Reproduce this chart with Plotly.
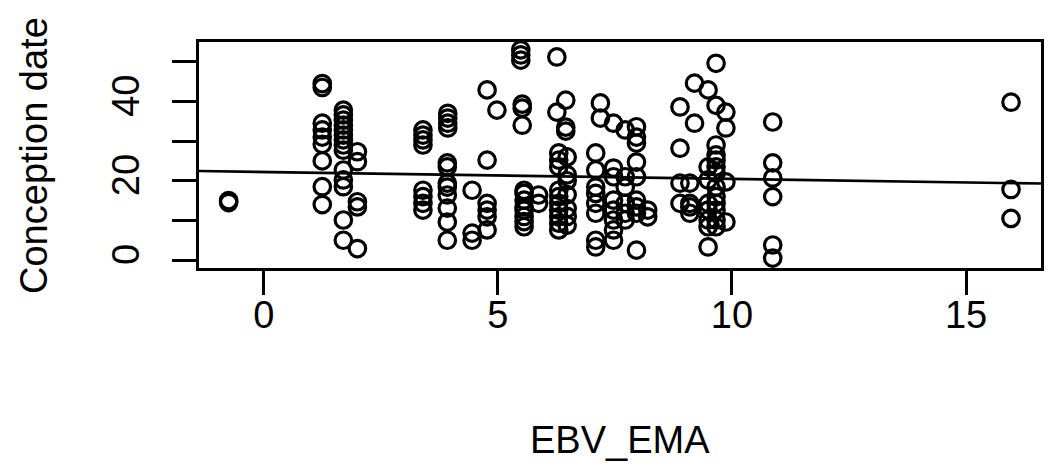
import numpy as np
import plotly.graph_objects as go

# EBV_EMA (x) and conception date (y)
ebv_ema = (
    [-0.75] * 2
    + [1.25] * 9
    + [1.70] * 14
    + [2.00] * 5
    + [3.40] * 8
    + [3.93] * 4
    + [3.92] * 8
    + [4.45] * 3
    + [4.77] * 6
    + [4.98]
    + [5.49] * 3
    + [5.52] * 3
    + [5.56] * 8
    + [5.87] * 2
    + [6.26] * 2
    + [6.45] * 3
    + [6.30] * 10
    + [6.48] * 7
    + [7.09] * 8
    + [7.19] * 2
    + [7.47] * 8
    + [7.72] * 6
    + [7.96] * 9
    + [8.20] * 2
    + [8.89] * 4
    + [9.10] * 4
    + [9.20] * 2
    + [9.49] * 8
    + [9.66] * 13
    + [9.87] * 4
    + [10.87] * 6
    + [15.96] * 3
)

conception_date = (
    [14.5, 15.0]
    + [44.5, 43.5, 34.5, 32.8, 31.0, 29.2, 25.0, 18.5, 14.0]
    + [37.8, 36.6, 35.3, 34.0, 32.8, 31.5, 30.3, 29.0, 27.7, 22.7, 20.2, 18.5, 10.1, 5.0]
    + [27.3, 24.8, 14.7, 13.4, 2.9]
    + [32.8, 31.5, 30.3, 29.0, 17.6, 16.0, 14.3, 12.6]
    + [37.0, 35.8, 34.5, 33.3]
    + [24.5, 23.5, 19.4, 18.4, 16.4, 13.1, 9.6, 5.0]
    + [17.6, 6.8, 5.0]
    + [42.9, 25.2, 14.3, 12.6, 10.9, 7.6]
    + [37.8]
    + [53.0, 51.7, 50.4]
    + [39.3, 38.3, 34.0]
    + [17.6, 16.8, 15.1, 13.4, 12.6, 11.0, 9.7, 8.4]
    + [16.4, 14.3]
    + [51.2, 37.3]
    + [40.3, 33.5, 32.5]
    + [27.0, 25.2, 23.5, 17.6, 16.0, 14.3, 12.6, 10.9, 9.3, 7.6]
    + [26.0, 21.5, 20.0, 16.5, 13.0, 11.0, 8.8]
    + [27.0, 22.7, 18.4, 16.8, 14.3, 11.8, 5.0, 3.3]
    + [39.6, 35.8]
    + [34.5, 23.2, 21.0, 15.1, 12.6, 10.1, 7.6, 5.0]
    + [32.8, 21.0, 18.4, 14.3, 11.8, 10.1]
    + [33.6, 31.0, 29.5, 24.7, 21.0, 15.1, 13.4, 11.8, 2.5]
    + [12.6, 10.9]
    + [38.6, 28.2, 19.4, 14.3]
    + [19.4, 14.3, 13.4, 11.8]
    + [44.6, 34.5]
    + [42.9, 23.5, 20.2, 14.3, 12.6, 10.1, 8.4, 3.3]
    + [49.6, 39.0, 29.0, 26.5, 25.2, 23.5, 21.9, 18.4, 16.0, 14.3, 12.6, 10.1, 8.4]
    + [37.3, 33.3, 19.7, 9.6]
    + [34.8, 24.5, 20.7, 16.0, 3.8, 0.5]
    + [39.8, 17.8, 10.5]
)

# regression line (abline)
reg_intercept = 22.2
reg_slope = -0.175

x_ticks = [0, 5, 10, 15]
x_tick_labels = ["0", "5", "10", "15"]
y_ticks = [0, 10, 20, 30, 40, 50]
y_tick_labels = ["0", "", "20", "", "40", ""]

x_range = [-1.383, 16.60]
y_range = [-2.0, 54.97]

FONT = "Liberation Sans, Arial, sans-serif"
FS = 38

fig = go.Figure()
fig.add_trace(go.Scatter(
    x=ebv_ema, y=conception_date, mode="markers",
    marker=dict(symbol="circle-open", size=16.5, color="black",
                line=dict(color="black", width=3.2)),
    showlegend=False, hoverinfo="skip"))

line_x = np.array(x_range)
line_y = reg_intercept + reg_slope * line_x
fig.add_trace(go.Scatter(
    x=line_x, y=line_y, mode="lines",
    line=dict(color="black", width=2.6),
    showlegend=False, hoverinfo="skip"))

axis_common = dict(
    showline=True, mirror=True, linecolor="black", linewidth=3,
    ticks="outside", ticklen=24, tickwidth=2.8, tickcolor="black",
    showgrid=False, zeroline=False,
    tickfont=dict(family=FONT, size=FS, color="black"),
)

fig.update_layout(
    width=1050, height=469,
    margin=dict(l=199, r=6, t=42, b=201),
    paper_bgcolor="white", plot_bgcolor="white",
    font=dict(family=FONT, size=FS, color="black"),
    xaxis=dict(range=x_range, tickvals=x_ticks, ticktext=x_tick_labels,
               ticklabelstandoff=-13, **axis_common),
    yaxis=dict(range=y_range, tickvals=y_ticks, ticktext=y_tick_labels,
               tickangle=-90, ticklabelstandoff=18, **axis_common),
    annotations=[
        dict(text="EBV_EMA", xref="paper", yref="paper", x=0.5, y=-0.761,
             xanchor="center", yanchor="middle", showarrow=False,
             font=dict(family=FONT, size=FS, color="black")),
        dict(text="Conception date", xref="paper", yref="paper", x=-0.196, y=0.5,
             xanchor="center", yanchor="middle", textangle=-90, showarrow=False,
             font=dict(family=FONT, size=FS, color="black")),
    ],
)

fig.write_html("out.html")
